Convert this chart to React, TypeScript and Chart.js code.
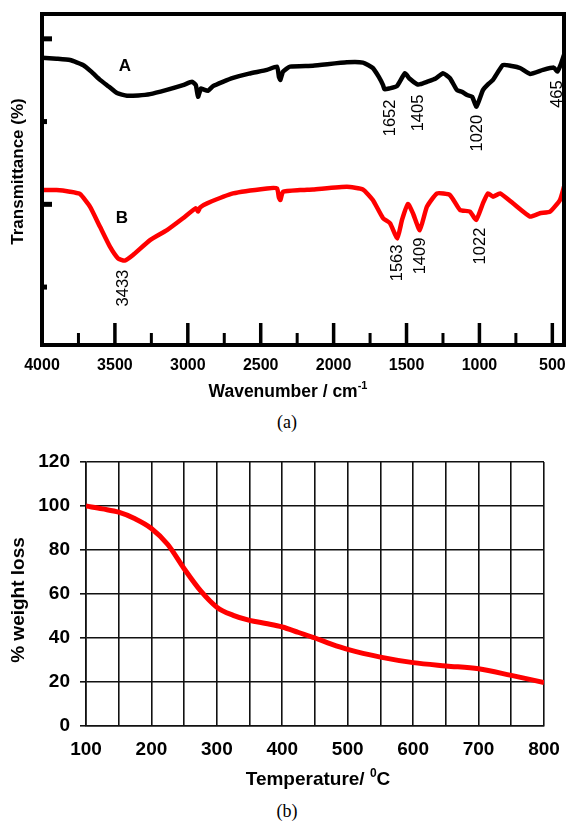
import React, { useEffect, useRef } from 'react';
import { Chart, registerables } from 'chart.js';

Chart.register(...registerables);

// ---------- (a) FTIR spectra ----------
const waveA = [4000, 3900, 3808, 3719, 3660, 3602, 3540, 3486, 3417, 3340, 3259, 3150, 3033, 2971, 2945, 2930, 2910, 2896, 2862, 2827, 2760, 2690, 2580, 2457, 2388, 2375, 2365, 2347, 2299, 2142, 1909, 1799, 1731, 1690, 1661, 1652, 1620, 1566, 1511, 1480, 1428, 1405, 1360, 1300, 1250, 1202, 1154, 1120, 1085, 1050, 1020, 976, 940, 907, 839, 780, 722, 653, 564, 490, 465, 440, 420];
const transA = [86.8, 86.5, 86.1, 84.6, 82.5, 80.1, 78.0, 76.1, 75.3, 75.4, 75.8, 77.0, 78.5, 79.5, 78.5, 75.0, 77.5, 77.3, 76.8, 78.2, 79.5, 80.7, 82.0, 83.1, 84.1, 81.0, 80.1, 82.6, 84.1, 84.4, 85.4, 85.3, 83.7, 81.0, 78.5, 77.3, 77.5, 78.2, 82.1, 80.5, 78.8, 78.8, 79.5, 80.5, 82.1, 80.6, 77.0, 76.5, 75.5, 75.0, 72.0, 77.0, 78.8, 80.1, 84.6, 84.3, 83.7, 81.9, 83.1, 83.8, 82.6, 85.0, 87.6];

const waveB = [4000, 3900, 3808, 3739, 3671, 3602, 3534, 3479, 3433, 3376, 3259, 3143, 3033, 2945, 2930, 2915, 2868, 2690, 2457, 2388, 2375, 2365, 2347, 2230, 2142, 1909, 1799, 1731, 1661, 1613, 1563, 1531, 1490, 1456, 1409, 1360, 1291, 1202, 1133, 1065, 1022, 976, 941, 907, 859, 770, 653, 585, 516, 448, 420];
const transB = [46.8, 46.8, 46.3, 45.6, 41.8, 35.7, 29.7, 26.2, 25.5, 27.2, 31.7, 34.7, 38.3, 41.3, 40.3, 41.6, 42.8, 45.8, 47.3, 47.3, 44.5, 43.8, 46.3, 46.8, 47.0, 47.8, 47.0, 43.8, 38.3, 36.8, 32.2, 37.8, 42.6, 39.8, 34.7, 41.8, 45.8, 45.3, 40.8, 40.3, 37.8, 42.8, 45.8, 44.8, 45.8, 42.8, 38.8, 39.8, 40.3, 43.8, 47.8];

const irMajorTicks = [4000, 3500, 3000, 2500, 2000, 1500, 1000, 500];
const irMinorTicks = [3750, 3250, 2750, 2250, 1750, 1250, 750];
const irYMarks = [92.5, 67.5, 42.5, 17.5];
const irYMarkMajor = [true, false, true, false];

const curveNames = ['A', 'B'];
const curveNameX = [3431, 3452];
const curveNameY = [84.3, 38.4];

const peakTexts = ['1652', '1405', '1020', '465', '3433', '1563', '1409', '1022'];
const peakX = [1607, 1418, 1012, 463, 3444, 1562, 1404, 993];
const peakY = [68.6, 70.1, 64.0, 75.8, 17.2, 24.8, 26.9, 29.9];

// ---------- (b) TGA ----------
const temps = [100, 125, 150, 175, 200, 225, 250, 275, 300, 325, 350, 375, 400, 425, 450, 475, 500, 550, 600, 650, 700, 750, 800];
const weight = [100, 98.7, 97.2, 94.2, 89.8, 82.5, 71.5, 61.5, 54.0, 50.3, 48.0, 46.6, 45.0, 42.5, 40.0, 37.2, 34.8, 31.3, 28.8, 27.3, 26.0, 23.0, 19.8];

const FONT = '"Liberation Sans", Arial, Helvetica, sans-serif';

function drawSupText(ctx: CanvasRenderingContext2D, cx: number, cy: number, base: string, sup: string, tail: string, size: number) {
  const bigFont = `bold ${size}px ${FONT}`;
  const smallFont = `bold ${Math.round(size * 0.62)}px ${FONT}`;
  ctx.font = bigFont;
  const w1 = ctx.measureText(base).width;
  const w3 = ctx.measureText(tail).width;
  ctx.font = smallFont;
  const w2 = ctx.measureText(sup).width;
  const total = w1 + w2 + w3;
  let x = cx - total / 2;
  ctx.textAlign = 'left';
  ctx.textBaseline = 'middle';
  ctx.font = bigFont;
  ctx.fillText(base, x, cy);
  x += w1;
  ctx.font = smallFont;
  ctx.fillText(sup, x, cy - size * 0.35);
  x += w2;
  ctx.font = bigFont;
  ctx.fillText(tail, x, cy);
}

const irPlugin = {
  id: 'irDecor',
  afterDatasetsDraw(chart: any) {
    const { ctx, chartArea: a, scales } = chart;
    const x = scales.x;
    const y = scales.y;
    ctx.save();
    ctx.strokeStyle = '#000';
    ctx.fillStyle = '#000';
    ctx.lineWidth = 4;
    ctx.strokeRect(a.left, a.top, a.right - a.left, a.bottom - a.top);
    ctx.lineWidth = 3.5;
    irMajorTicks.forEach((v) => {
      const px = x.getPixelForValue(v);
      ctx.beginPath();
      ctx.moveTo(px, a.bottom);
      ctx.lineTo(px, a.bottom - 22);
      ctx.stroke();
    });
    ctx.lineWidth = 3;
    irMinorTicks.forEach((v) => {
      const px = x.getPixelForValue(v);
      ctx.beginPath();
      ctx.moveTo(px, a.bottom);
      ctx.lineTo(px, a.bottom - 12);
      ctx.stroke();
    });
    irYMarks.forEach((v, i) => {
      const py = y.getPixelForValue(v);
      ctx.fillRect(a.left, py - 2.5, irYMarkMajor[i] ? 10 : 5, 5);
    });
    // curve names
    ctx.font = `bold 17px ${FONT}`;
    ctx.textAlign = 'center';
    ctx.textBaseline = 'middle';
    curveNames.forEach((t, i) => {
      ctx.fillText(t, x.getPixelForValue(curveNameX[i]), y.getPixelForValue(curveNameY[i]));
    });
    // peak labels
    ctx.font = `16.5px ${FONT}`;
    peakTexts.forEach((t, i) => {
      ctx.save();
      ctx.translate(x.getPixelForValue(peakX[i]), y.getPixelForValue(peakY[i]));
      ctx.rotate(-Math.PI / 2);
      ctx.fillText(t, 0, 0);
      ctx.restore();
    });
    // axis titles
    ctx.save();
    ctx.font = `bold 17px ${FONT}`;
    ctx.translate(18, (a.top + a.bottom) / 2 - 8);
    ctx.rotate(-Math.PI / 2);
    ctx.fillText('Transmittance (%)', 0, 0);
    ctx.restore();
    drawSupText(ctx, (a.left + a.right) / 2 - 15, 392, 'Wavenumber / cm', '-1', '', 17.5);
    ctx.restore();
  },
};

const tgaPlugin = {
  id: 'tgaDecor',
  afterDraw(chart: any) {
    const { ctx, chartArea: a } = chart;
    ctx.save();
    ctx.fillStyle = '#000';
    ctx.save();
    ctx.font = `bold 19px ${FONT}`;
    ctx.textAlign = 'center';
    ctx.textBaseline = 'middle';
    ctx.translate(19, (a.top + a.bottom) / 2 + 6);
    ctx.rotate(-Math.PI / 2);
    ctx.fillText('% weight loss', 0, 0);
    ctx.restore();
    drawSupText(ctx, (a.left + a.right) / 2 + 3, 340, 'Temperature/ ', '0', 'C', 19);
    ctx.restore();
  },
};

function IrChart() {
  const ref = useRef<HTMLCanvasElement | null>(null);
  useEffect(() => {
    if (!ref.current) return;
    const chart = new Chart(ref.current, {
      type: 'line',
      data: {
        datasets: [
          {
            label: 'A',
            data: waveA.map((w, i) => ({ x: w, y: transA[i] })),
            borderColor: '#000',
            borderWidth: 4.5,
            pointRadius: 0,
            tension: 0.15,
          },
          {
            label: 'B',
            data: waveB.map((w, i) => ({ x: w, y: transB[i] })),
            borderColor: '#ff0000',
            borderWidth: 4.5,
            pointRadius: 0,
            tension: 0.15,
          },
        ],
      },
      options: {
        responsive: false,
        animation: false,
        layout: { padding: { top: 14, right: 3, left: 0, bottom: 0 } },
        plugins: { legend: { display: false }, tooltip: { enabled: false } },
        scales: {
          x: {
            type: 'linear',
            reverse: true,
            min: 420,
            max: 4000,
            grid: { display: false, drawTicks: false },
            border: { display: false },
            afterBuildTicks: (s: any) => {
              s.ticks = irMajorTicks.map((v) => ({ value: v }));
            },
            afterFit: (s: any) => {
              s.height = 55;
              s.paddingLeft = 0;
              s.paddingRight = 0;
            },
            ticks: {
              autoSkip: false,
              maxRotation: 0,
              padding: 11,
              color: '#000',
              font: { family: FONT, size: 16, weight: 'bold' },
              callback: (v: any) => String(v),
            },
          },
          y: {
            min: 0,
            max: 100,
            grid: { display: false, drawTicks: false },
            border: { display: false },
            ticks: { display: false },
            afterFit: (s: any) => {
              s.width = 42;
              s.paddingTop = 0;
              s.paddingBottom = 0;
            },
          },
        },
      },
      plugins: [irPlugin],
    } as any);
    return () => chart.destroy();
  }, []);
  return <canvas ref={ref} width={567} height={400} style={{ display: 'block' }} />;
}

function TgaChart() {
  const ref = useRef<HTMLCanvasElement | null>(null);
  useEffect(() => {
    if (!ref.current) return;
    const chart = new Chart(ref.current, {
      type: 'line',
      data: {
        datasets: [
          {
            label: 'TGA',
            data: temps.map((t, i) => ({ x: t, y: weight[i] })),
            borderColor: '#ff0000',
            borderWidth: 5,
            pointRadius: 0,
            cubicInterpolationMode: 'monotone',
          },
        ],
      },
      options: {
        responsive: false,
        animation: false,
        layout: { padding: { top: 22, right: 23, left: 0, bottom: 0 } },
        plugins: { legend: { display: false }, tooltip: { enabled: false } },
        scales: {
          x: {
            type: 'linear',
            min: 100,
            max: 800,
            grid: { color: '#111', lineWidth: 1.6, drawTicks: false },
            border: { color: '#111', width: 1.6 },
            afterFit: (s: any) => {
              s.height = 74;
              s.paddingLeft = 0;
              s.paddingRight = 0;
            },
            ticks: {
              stepSize: 50,
              autoSkip: false,
              maxRotation: 0,
              padding: 12,
              color: '#000',
              font: { family: FONT, size: 19, weight: 'bold' },
              callback: (v: any) => (Number(v) % 100 === 0 ? String(v) : ''),
            },
          },
          y: {
            min: 0,
            max: 120,
            grid: { color: '#111', lineWidth: 1.6, tickLength: 6 },
            border: { color: '#111', width: 1.6 },
            afterFit: (s: any) => {
              s.width = 86;
              s.paddingTop = 0;
              s.paddingBottom = 0;
            },
            ticks: {
              stepSize: 20,
              padding: 10,
              color: '#000',
              font: { family: FONT, size: 19, weight: 'bold' },
            },
          },
        },
      },
      plugins: [tgaPlugin],
    } as any);
    return () => chart.destroy();
  }, []);
  return <canvas ref={ref} width={567} height={360} style={{ display: 'block' }} />;
}

export default function App() {
  const cap: React.CSSProperties = {
    position: 'absolute',
    left: 0,
    width: 574,
    textAlign: 'center',
    fontFamily: '"Liberation Serif", "Times New Roman", serif',
    fontSize: 18,
    lineHeight: '20px',
    color: '#000',
  };
  return (
    <div style={{ position: 'absolute', left: 0, top: 0, width: 567, height: 821, background: '#fff', overflow: 'hidden' }}>
      <div style={{ position: 'absolute', left: 0, top: 0 }}>
        <IrChart />
      </div>
      <div style={{ ...cap, top: 412 }}>(a)</div>
      <div style={{ position: 'absolute', left: 0, top: 440 }}>
        <TgaChart />
      </div>
      <div style={{ ...cap, top: 801 }}>(b)</div>
    </div>
  );
}
